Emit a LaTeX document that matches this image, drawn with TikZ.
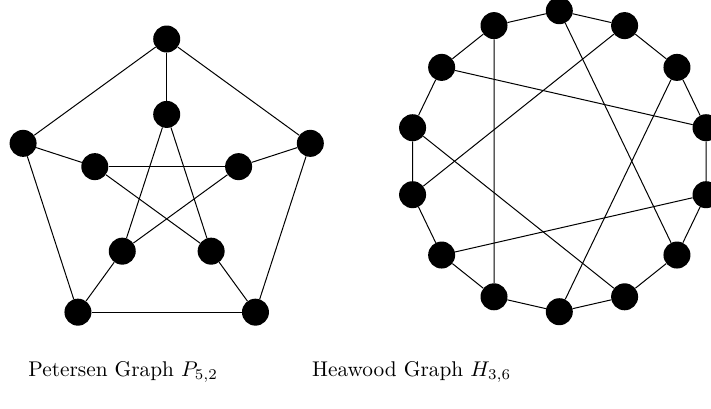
\documentclass[tikz,border=0pt]{standalone}
\begin{document}
\begin{tikzpicture}[x=1pt,y=-1pt,
  vtx/.style={circle,fill=black,inner sep=0pt,minimum size=27pt},
  edge/.style={draw=black,line width=1pt},
  caplabel/.style={inner sep=0pt,anchor=base west,font=\fontsize{10}{12}\selectfont,scale=2.13,transform shape}]
\useasboundingbox (0,0) rectangle (711,408);
% Petersen
\foreach \i in {0,...,4}{
  \node[vtx] (o\i) at ({166.7+151*cos(90+72*\i)},{190-151*sin(90+72*\i)}) {};
  \node[vtx] (n\i) at ({166.7+75.6*cos(90+72*\i)},{190-75.6*sin(90+72*\i)}) {};
}
\foreach \i/\j in {0/1,1/2,2/3,3/4,4/0}{
  \draw[edge] (o\i) -- (o\j);
}
\foreach \i/\j in {0/2,2/4,4/1,1/3,3/0}{
  \draw[edge] (n\i) -- (n\j);
}
\foreach \i in {0,...,4}{
  \draw[edge] (o\i) -- (n\i);
}
% Heawood
\foreach \k in {0,...,13}{
  \node[vtx] (h\k) at ({559.3+150.5*cos(90-360/14*\k)},{161.2-150.5*sin(90-360/14*\k)}) {};
}
\foreach \k [evaluate=\k as \m using {int(mod(\k+1,14))}] in {0,...,13}{
  \draw[edge] (h\k) -- (h\m);
}
\foreach \a/\b in {0/5,2/7,4/9,6/11,8/13,10/1,12/3}{
  \draw[edge] (h\a) -- (h\b);
}
\node[caplabel] (lp) at (28,376) {Petersen Graph $P_{5,2}$};
\node[caplabel] (lh) at (311.7,376) {Heawood Graph $H_{3,6}$};
\end{tikzpicture}
\end{document}
